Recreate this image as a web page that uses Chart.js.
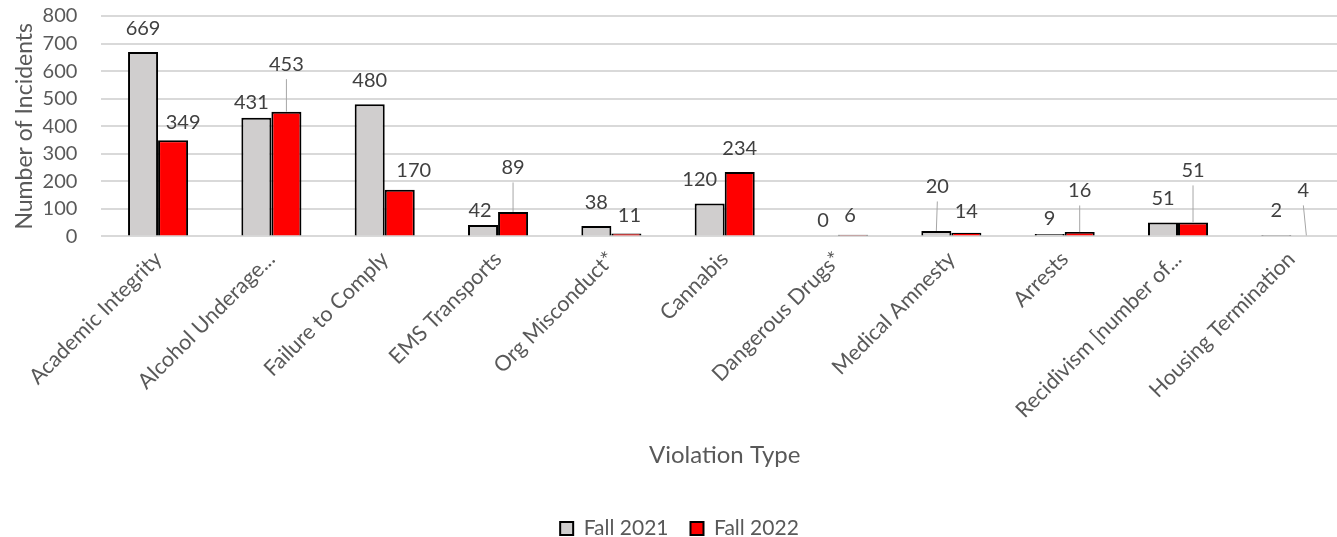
<!DOCTYPE html>
<html>
<head>
<meta charset="utf-8">
<script src="https://cdn.jsdelivr.net/npm/chart.js@4"></script>
<style>
  html, body { margin: 0; padding: 0; background: #fff; overflow: hidden; }
  .wrap { width: 1350px; height: 537px; }
</style>
</head>
<body>
<div class="wrap"><canvas id="myChart"></canvas></div>
<script>
// Data
const categories = [
  "Academic Integrity", "Alcohol Underage...", "Failure to Comply", "EMS Transports",
  "Org Misconduct*", "Cannabis", "Dangerous Drugs*", "Medical Amnesty", "Arrests",
  "Recidivism [number of...", "Housing Termination"
];
const fall_2021 = [669, 431, 480, 42, 38, 120, 0, 20, 9, 51, 2];
const fall_2022 = [349, 453, 170, 89, 11, 234, 6, 14, 16, 51, 4];
const y_ticks = [0, 100, 200, 300, 400, 500, 600, 700, 800];

const font_name = "Lato, 'Open Sans', sans-serif";
const text_color = "#595959";

// Label placement (pixels), Excel-style hand-moved labels
const label_lift = [
  [24, 15.5, 24, 14.5, 23.5, 24, 16, 44.5, 15.5, 24, 25.5],
  [18, 47.5, 19, 44.5, 18, 23.6, 19, 21, 41.6, 52, 45]
];
const label_shift = [
  [0, -5, 0, -3, 0, -10, 0, 1, 0, 0, 0],
  [10, 0, 14, 0, 3, 0, -3, 0, 0, 0, -3]
];

const barLabels = {
  id: "barLabels",
  afterDatasetsDraw(chart) {
    const ctx = chart.ctx;
    ctx.save();
    ctx.font = "20px " + font_name;
    ctx.fillStyle = "#404040";
    ctx.textAlign = "center";
    ctx.textBaseline = "middle";
    chart.data.datasets.forEach((ds, d) => {
      const meta = chart.getDatasetMeta(d);
      meta.data.forEach((bar, i) => {
        const lift = label_lift[d][i];
        const lx = bar.x + label_shift[d][i];
        const ly = bar.y - lift;
        if (lift > 35) {
          ctx.strokeStyle = "#a6a6a6";
          ctx.lineWidth = 1;
          ctx.beginPath();
          ctx.moveTo(lx, ly + 15);
          ctx.lineTo(bar.x, bar.y);
          ctx.stroke();
        }
        ctx.fillText(String(ds.data[i]), lx, ly);
      });
    });
    ctx.restore();
  }
};

const ctx = document.getElementById("myChart").getContext("2d");
const myChart = new Chart(ctx, {
  type: "bar",
  data: {
    labels: categories,
    datasets: [
      {
        label: "Fall 2021",
        data: fall_2021,
        backgroundColor: "#d0cece",
        borderColor: "#000000",
        borderWidth: 2,
        borderSkipped: "bottom"
      },
      {
        label: "Fall 2022",
        data: fall_2022,
        backgroundColor: "#ff0000",
        borderColor: "#000000",
        borderWidth: 2,
        borderSkipped: "bottom"
      }
    ]
  },
  options: {
    responsive: true,
    maintainAspectRatio: false,
    animation: false,
    layout: { padding: { top: 0, right: 2, left: 11, bottom: -12 } },
    datasets: { bar: { categoryPercentage: 0.53, barPercentage: 1.0 } },
    scales: {
      x: {
        grid: { display: false },
        border: { display: false },
        ticks: {
          color: text_color,
          font: { family: font_name, size: 21.5 },
          minRotation: 45,
          maxRotation: 45,
          padding: 2
        },
        title: {
          display: true,
          text: "Violation Type",
          color: text_color,
          font: { family: font_name, size: 24 },
          padding: { top: 16, bottom: 26 }
        }
      },
      y: {
        min: 0,
        max: 800,
        afterBuildTicks: (axis) => {
          axis.ticks = y_ticks.map((v) => ({ value: v }));
        },
        grid: {
          color: "#d9d9d9",
          lineWidth: 2,
          drawTicks: true,
          tickLength: 20,
          tickColor: "rgba(0,0,0,0)"
        },
        border: { display: false },
        ticks: {
          color: text_color,
          font: { family: font_name, size: 20 },
          padding: 4,
          autoSkip: false
        },
        title: {
          display: true,
          text: "Number of Incidents",
          color: text_color,
          font: { family: font_name, size: 23 },
          padding: { top: 0, bottom: 0 }
        }
      }
    },
    plugins: {
      legend: {
        position: "bottom",
        labels: {
          color: text_color,
          font: { family: font_name, size: 21 },
          boxWidth: 13,
          boxHeight: 13,
          padding: 22
        }
      },
      tooltip: { enabled: false }
    }
  },
  plugins: [barLabels]
});
</script>
</body>
</html>
